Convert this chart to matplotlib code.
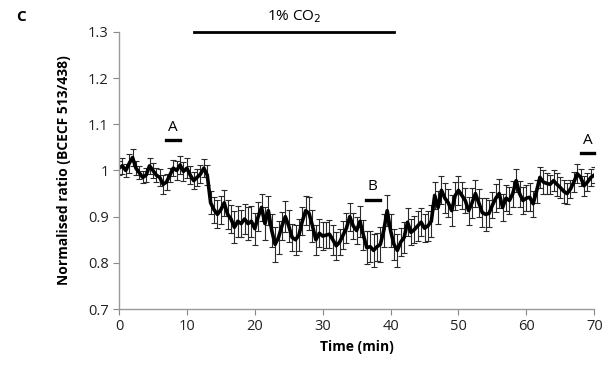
import matplotlib.pyplot as plt
import numpy as np

plt.rcParams['font.family'] = ['Open Sans', 'DejaVu Sans']

time_min = np.arange(0, 70.5, 0.5)
ratio = [
    1.005, 1.01, 1.0, 1.015, 1.028, 1.005, 0.995, 0.985, 0.99, 1.01,
    1.0, 0.99, 0.985, 0.97, 0.975, 0.99, 1.005, 1.0, 1.012, 0.998,
    1.005, 0.99, 0.978, 0.985, 0.992, 1.005, 0.99, 0.93, 0.915, 0.905,
    0.915, 0.93, 0.905, 0.895, 0.877, 0.89, 0.885, 0.895, 0.885, 0.89,
    0.874, 0.9, 0.92, 0.885, 0.913, 0.87, 0.84, 0.855, 0.88, 0.9,
    0.88, 0.855, 0.85, 0.86, 0.89, 0.913, 0.907, 0.88, 0.85, 0.864,
    0.858, 0.86, 0.862, 0.85, 0.837, 0.845, 0.86, 0.875, 0.9, 0.88,
    0.87, 0.89, 0.86, 0.833, 0.835, 0.827, 0.835, 0.84, 0.87, 0.913,
    0.87, 0.84, 0.827, 0.845, 0.855, 0.888, 0.866, 0.872, 0.88, 0.888,
    0.875, 0.88, 0.89, 0.946, 0.92, 0.957, 0.94, 0.93, 0.913, 0.945,
    0.957, 0.946, 0.935, 0.913, 0.93, 0.95, 0.93, 0.909, 0.905, 0.907,
    0.925, 0.94, 0.95, 0.92, 0.94, 0.935, 0.95, 0.978, 0.95, 0.935,
    0.94, 0.942, 0.928, 0.955, 0.985, 0.975, 0.972, 0.97, 0.978, 0.97,
    0.963, 0.955, 0.95, 0.96, 0.975, 0.993, 0.985, 0.967, 0.975, 0.985,
    0.99,
]
sem = [
    0.015, 0.018, 0.015, 0.02, 0.018, 0.015, 0.014, 0.013, 0.015, 0.017,
    0.016, 0.015, 0.018, 0.02, 0.017, 0.016, 0.018, 0.02, 0.02, 0.02,
    0.022, 0.02, 0.018, 0.018, 0.02, 0.02, 0.022, 0.025, 0.028, 0.03,
    0.03, 0.028, 0.032, 0.03, 0.035, 0.033, 0.03, 0.032, 0.035, 0.033,
    0.035, 0.032, 0.03, 0.035, 0.032, 0.035, 0.038, 0.035, 0.03, 0.033,
    0.035, 0.03, 0.033, 0.035, 0.03, 0.032, 0.035, 0.035, 0.032, 0.03,
    0.03, 0.028, 0.03, 0.032, 0.03, 0.028, 0.03, 0.032, 0.03, 0.028,
    0.03, 0.033, 0.032, 0.035, 0.033, 0.035, 0.03, 0.038, 0.035, 0.033,
    0.035, 0.033, 0.035, 0.03, 0.033, 0.03, 0.028, 0.03, 0.033, 0.03,
    0.03, 0.032, 0.035, 0.03, 0.035, 0.03, 0.032, 0.03, 0.033, 0.03,
    0.032, 0.03, 0.028, 0.03, 0.032, 0.03, 0.03, 0.032, 0.035, 0.03,
    0.028, 0.03, 0.032, 0.03, 0.028, 0.03, 0.028, 0.025, 0.028, 0.03,
    0.028, 0.03, 0.028, 0.025, 0.022, 0.025, 0.022, 0.02, 0.022, 0.025,
    0.022, 0.025, 0.022, 0.02, 0.022, 0.02, 0.018, 0.022, 0.02, 0.018,
    0.018,
]

co2_period = [11, 40.5]
marks = [('A', 6.9, 9.0, 1.065), ('B', 36.4, 38.4, 0.937), ('A', 68.0, 70.0, 1.037)]

fig = plt.figure(figsize=(6.07, 3.71), dpi=100)
ax = fig.add_axes([0.196, 0.167, 0.783, 0.747])

ax.errorbar(time_min, ratio, yerr=sem, color='black', lw=2.6,
            ecolor='#2a2a2a', elinewidth=0.8, capsize=2.2, capthick=0.8)

ax.set_xlim(0, 70)
ax.set_ylim(0.7, 1.3)
ax.set_xticks(range(0, 71, 10))
ax.set_yticks([0.7, 0.8, 0.9, 1.0, 1.1, 1.2, 1.3])
ax.set_yticklabels(['0.7', '0.8', '0.9', '1', '1.1', '1.2', '1.3'])
ax.tick_params(direction='out', length=4, width=0.8, color='#888888',
               labelsize=10.5, labelcolor='#222222')
for s in ['top', 'right']:
    ax.spines[s].set_visible(False)
for s in ['left', 'bottom']:
    ax.spines[s].set_color('#999999')
    ax.spines[s].set_linewidth(1)

ax.set_xlabel('Time (min)', fontsize=10, fontweight='bold')
ax.set_ylabel('Normalised ratio (BCECF 513/438)', fontsize=10, fontweight='bold', labelpad=12)

ax.plot(co2_period, [1.3, 1.3], color='black', lw=2, clip_on=False)
ax.text(sum(co2_period) / 2, 1.315, '1% CO$_2$', ha='center', va='bottom', fontsize=11)

for lab, x0, x1, y in marks:
    ax.plot([x0, x1], [y, y], color='black', lw=2.4, clip_on=False)
    ax.text((x0 + x1) / 2, y + 0.012, lab, ha='center', va='bottom', fontsize=11)

fig.text(0.027, 0.955, 'C', fontsize=11, fontweight='bold', va='center')

fig.savefig('out.png', dpi=100)
